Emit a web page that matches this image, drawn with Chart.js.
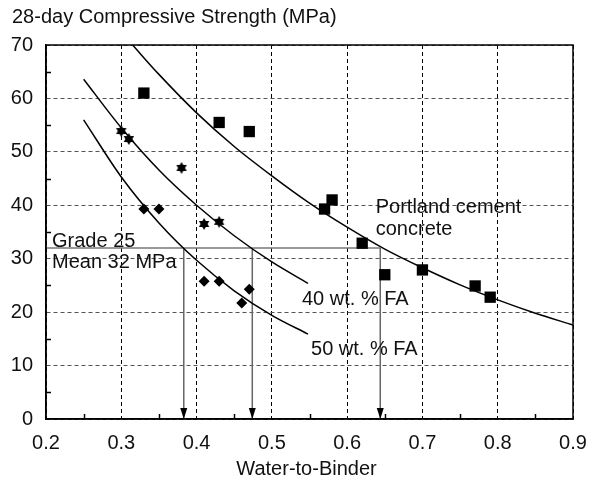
<!DOCTYPE html>
<html><head><meta charset="utf-8">
<script src="https://cdn.jsdelivr.net/npm/chart.js@4/dist/chart.umd.min.js"></script>
<style>html,body{margin:0;padding:0;background:#fff}#wrap{width:589px;height:479px}</style>
</head><body><div id="wrap"><canvas id="c" width="589" height="479"></canvas></div>
<script>
// ---- data ----
const xTickValues = [0.2, 0.3, 0.4, 0.5, 0.6, 0.7, 0.8, 0.9];
const yTickValues = [0, 10, 20, 30, 40, 50, 60, 70];
const xMinorTicks = [0.25, 0.35, 0.45, 0.55, 0.65, 0.75, 0.85];
const yMinorTicks = [5, 15, 25, 35, 45, 55, 65];

const portlandX = [0.33, 0.43, 0.47, 0.57, 0.58, 0.62, 0.65, 0.70, 0.77, 0.79];
const portlandY = [61.0, 55.5, 53.8, 39.3, 41.0, 32.9, 27.0, 27.9, 24.9, 22.8];
const fa40X = [0.30, 0.31, 0.38, 0.41, 0.43];
const fa40Y = [53.9, 52.4, 47.0, 36.5, 36.9];
const fa50X = [0.33, 0.35, 0.41, 0.43, 0.46, 0.47];
const fa50Y = [39.3, 39.3, 25.8, 25.8, 21.7, 24.3];

const portlandCurveX = [0.315, 0.35, 0.40, 0.45, 0.50, 0.55, 0.60, 0.65, 0.70, 0.75, 0.80, 0.85, 0.90];
const portlandCurveY = [70.0, 64.5, 57.3, 51.0, 45.5, 40.4, 35.9, 31.8, 28.3, 25.1, 22.3, 19.8, 17.6];
const fa40CurveX = [0.25, 0.30, 0.35, 0.40, 0.45, 0.50, 0.548];
const fa40CurveY = [63.6, 54.5, 46.6, 40.0, 34.3, 29.4, 25.4];
const fa50CurveX = [0.25, 0.30, 0.35, 0.40, 0.45, 0.50, 0.548];
const fa50CurveY = [56.0, 45.3, 36.7, 29.7, 24.0, 19.4, 15.9];

const targetStrength = 32;               // Grade 25, mean 32 MPa
const ratioAtTarget = [0.383, 0.474, 0.644]; // 50% FA, 40% FA, Portland
const axisStart = [0.2, 0];

const annotations = [
  {text: 'Grade 25', x: 0.208, y: 32.2},
  {text: 'Mean 32 MPa', x: 0.208, y: 28.3},
  {text: 'Portland cement', x: 0.638, y: 38.6},
  {text: 'concrete', x: 0.638, y: 34.4},
  {text: '40 wt. % FA', x: 0.540, y: 21.3},
  {text: '50 wt. % FA', x: 0.552, y: 12.0}
];
const chartTitle = '28-day Compressive Strength (MPa)';
const xAxisTitle = 'Water-to-Binder';

// ---- helpers ----
const FAMILY = '"Liberation Sans", Arial, sans-serif';
const FONT = '20px ' + FAMILY;
const zip = (xs, ys) => xs.map((x, i) => ({x, y: ys[i]}));

function makeStar() {
  const c = document.createElement('canvas');
  c.width = 12; c.height = 12;
  const g = c.getContext('2d');
  g.fillStyle = '#000';
  const r = 6, cx = 6, cy = 6;
  [[-90, 30, 150], [90, 210, 330]].forEach(angs => {
    g.beginPath();
    angs.forEach((a, i) => {
      const t = a * Math.PI / 180;
      const px = cx + r * Math.cos(t), py = cy + r * Math.sin(t);
      i ? g.lineTo(px, py) : g.moveTo(px, py);
    });
    g.closePath(); g.fill();
  });
  return c;
}

const curveStyle = {showLine: true, pointRadius: 0, borderColor: '#000', borderWidth: 1.5,
  cubicInterpolationMode: 'monotone', fill: false};

const datasets = [
  {data: zip(portlandX, portlandY), pointStyle: 'rect', pointRadius: 8,
   backgroundColor: '#000', borderColor: '#000', pointBorderWidth: 0},
  {data: zip(fa40X, fa40Y), pointStyle: makeStar(), pointRadius: 6,
   backgroundColor: '#000', borderColor: '#000'},
  {data: zip(fa50X, fa50Y), pointStyle: 'rectRot', pointRadius: 5.5,
   backgroundColor: '#000', borderColor: '#000', pointBorderWidth: 0},
  Object.assign({data: zip(portlandCurveX, portlandCurveY)}, curveStyle),
  Object.assign({data: zip(fa40CurveX, fa40CurveY)}, curveStyle),
  Object.assign({data: zip(fa50CurveX, fa50CurveY)}, curveStyle),
  {data: [{x: axisStart[0], y: targetStrength}, {x: ratioAtTarget[2], y: targetStrength}],
   showLine: true, pointRadius: 0, borderColor: '#777', borderWidth: 1.5}
].concat(ratioAtTarget.map(r => ({
  data: [{x: r, y: targetStrength}, {x: r, y: axisStart[1]}],
  showLine: true, pointRadius: 0, borderColor: '#666', borderWidth: 1.5, arrow: true
})));

const decorPlugin = {
  id: 'decor',
  afterDatasetsDraw(chart) {
    const ctx = chart.ctx, a = chart.chartArea;
    const xs = chart.scales.x, ys = chart.scales.y;
    ctx.save();
    chart.data.datasets.forEach((ds, i) => {
      if (!ds.arrow) return;
      const pts = chart.getDatasetMeta(i).data;
      const tip = pts[pts.length - 1];
      ctx.fillStyle = '#000';
      ctx.beginPath();
      ctx.moveTo(tip.x, tip.y);
      ctx.lineTo(tip.x - 3.5, tip.y - 11);
      ctx.lineTo(tip.x + 3.5, tip.y - 11);
      ctx.closePath(); ctx.fill();
    });
    ctx.strokeStyle = '#000'; ctx.lineWidth = 1.5;
    ctx.beginPath();
    xMinorTicks.forEach(v => { const p = Math.round(xs.getPixelForValue(v)) + 0.5;
      ctx.moveTo(p, a.bottom); ctx.lineTo(p, a.bottom - 5); });
    yMinorTicks.forEach(v => { const p = Math.round(ys.getPixelForValue(v)) + 0.5;
      ctx.moveTo(a.left, p); ctx.lineTo(a.left + 5, p); });
    ctx.stroke();
    ctx.strokeRect(a.left, a.top, a.right - a.left, a.bottom - a.top);
    ctx.fillStyle = '#111'; ctx.font = FONT; ctx.textBaseline = 'alphabetic'; ctx.textAlign = 'left';
    annotations.forEach(t => ctx.fillText(t.text, xs.getPixelForValue(t.x), ys.getPixelForValue(t.y)));
    ctx.fillText(chartTitle, 12, 23);
    ctx.textAlign = 'center';
    ctx.fillText(xAxisTitle, (a.left + a.right) / 2 - 3, 475);
    ctx.restore();
  }
};

new Chart(document.getElementById('c'), {
  type: 'scatter',
  data: {datasets},
  options: {
    responsive: false, animation: false, devicePixelRatio: 1,
    layout: {padding: {top: 45, right: 16, left: 0, bottom: 0}},
    plugins: {legend: {display: false}, tooltip: {enabled: false}},
    scales: {
      x: {
        type: 'linear', min: 0.2, max: 0.9,
        afterBuildTicks: s => { s.ticks = xTickValues.map(v => ({value: v})); },
        afterFit: s => { s.height = 60; s.paddingLeft = 0; s.paddingRight = 0; },
        ticks: {color: '#111', font: {family: FAMILY, size: 20},
                padding: 12, maxRotation: 0, callback: v => v.toFixed(1)},
        grid: {color: '#000', lineWidth: 1, drawTicks: false},
        border: {display: true, color: '#000', width: 1.5, dash: [4, 3]}
      },
      y: {
        type: 'linear', min: 0, max: 70,
        afterBuildTicks: s => { s.ticks = yTickValues.map(v => ({value: v})); },
        afterFit: s => { s.width = 46; s.paddingTop = 0; s.paddingBottom = 0; },
        ticks: {color: '#111', font: {family: FAMILY, size: 20},
                padding: 13, callback: v => String(v)},
        grid: {color: '#555', lineWidth: 1, drawTicks: false},
        border: {display: true, color: '#000', width: 1.5, dash: [4, 3]}
      }
    }
  },
  plugins: [decorPlugin]
});
</script>
</body></html>
